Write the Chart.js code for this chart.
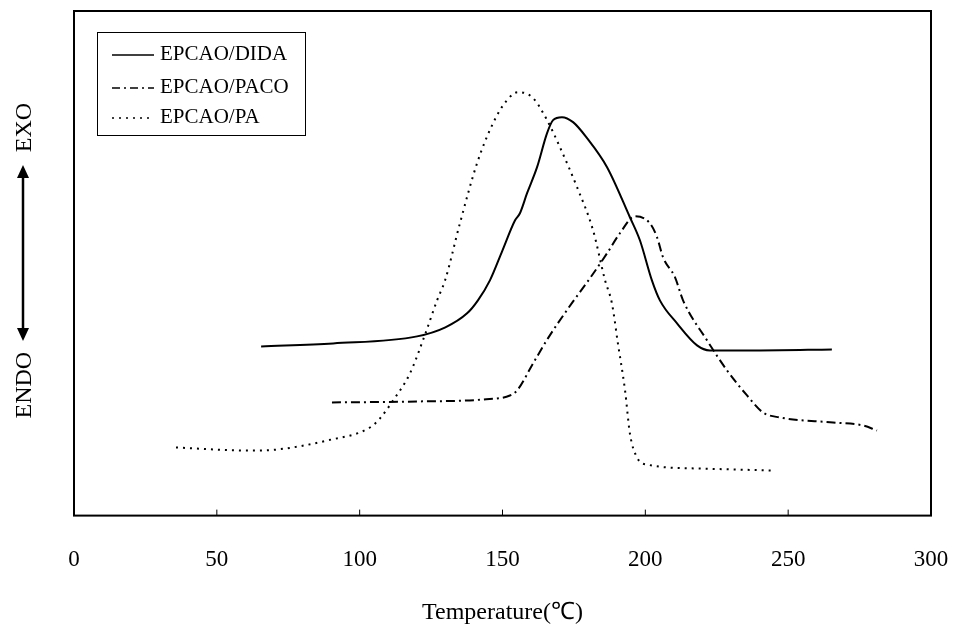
<!DOCTYPE html>
<html>
<head>
<meta charset="utf-8">
<script src="https://cdn.jsdelivr.net/npm/chart.js@4.4.0/dist/chart.umd.min.js"></script>
<style>
  body { margin: 0; background: #fff; }
  #wrap { position: relative; width: 954px; height: 627px; }
  #legendBox {
    position: absolute; left: 97px; top: 32px; width: 209px; height: 104px;
    border: 1px solid #000; box-sizing: border-box;
    font-family: "Liberation Serif", serif; font-size: 21px; color: #000;
  }
  .row { position: absolute; left: 14px; height: 24px; line-height: 24px; white-space: nowrap; }
  .row svg { vertical-align: middle; margin-right: 6px; }
  .ylab {
    position: absolute; font-family: "Liberation Serif", serif; font-size: 24px; color: #000;
    transform: rotate(-90deg); transform-origin: center center; white-space: nowrap;
  }
</style>
</head>
<body>
<div id="wrap">
  <canvas id="dscChart" width="954" height="627"></canvas>
  <div id="legendBox">
    <div class="row" style="top:8px"><svg width="42" height="6"><line x1="0" y1="3" x2="42" y2="3" stroke="#000" stroke-width="1.5"/></svg>EPCAO/DIDA</div>
    <div class="row" style="top:41px"><svg width="42" height="6"><line x1="0" y1="3" x2="42" y2="3" stroke="#000" stroke-width="1.5" stroke-dasharray="8,4,2,4"/></svg>EPCAO/PACO</div>
    <div class="row" style="top:71px"><svg width="42" height="6"><line x1="0" y1="3" x2="42" y2="3" stroke="#000" stroke-width="1.5" stroke-dasharray="2,5"/></svg>EPCAO/PA</div>
  </div>
  <div class="ylab" style="left:-4px; top:114px; width:54px; text-align:center;">EXO</div>
  <div class="ylab" style="left:-6px; top:376px; width:58px; text-align:center;">ENDO</div>
  <svg style="position:absolute; left:13px; top:165px;" width="20" height="176">
    <line x1="10" y1="10" x2="10" y2="166" stroke="#000" stroke-width="2.5"/>
    <polygon points="10,0 4,13 16,13" fill="#000"/>
    <polygon points="10,176 4,163 16,163" fill="#000"/>
  </svg>
</div>
<script>
// x tick labels
const xTicks = [0, 50, 100, 150, 200, 250, 300];

// EPCAO/DIDA (solid)
const didaT = [65.5, 90.7, 120.1, 130, 137.6, 141.4, 145.6, 150, 154.4, 156.1, 158.6, 162.1, 165.6, 167.7, 170.8, 174.7, 179.6, 186.6, 194.6, 198.1, 202.3, 205.1, 211.1, 218.1, 222.6, 240.1, 265.3];
const didaY = [169, 172, 179, 188, 202, 215, 235, 265, 295, 302, 322, 348, 382, 395, 398, 393, 377, 348, 298, 275, 235, 215, 192, 170, 165, 165, 166];

// EPCAO/PACO (dash-dot)
const pacoT = [90.3, 120.1, 143.2, 152.6, 155.1, 160.7, 165.9, 173, 180.6, 186.6, 191.1, 196.4, 201.6, 204.1, 206.2, 210.4, 213.2, 221.6, 228.6, 235.6, 241.2, 247.1, 265.7, 276.2, 281.1];
const pacoY = [113, 114, 116, 120, 125, 152, 177, 207, 237, 262, 282, 299, 292, 278, 258, 238, 215, 175, 145, 120, 103, 98, 93, 90, 85];

// EPCAO/PA (dotted)
const paT = [35.7, 61.6, 71.1, 88.6, 103.6, 107.1, 111.7, 117.6, 122.9, 127.1, 129.9, 135.1, 141.1, 146.7, 151.6, 155.4, 160.7, 165.6, 170.1, 176.1, 181.7, 185.9, 188.3, 190.4, 192.9, 194.6, 197.1, 200.6, 219.1, 244.7];
const paY = [68, 65, 66, 75, 88, 97, 115, 142, 181, 215, 235, 292, 352, 392, 415, 423, 417, 395, 368, 328, 285, 235, 212, 172, 125, 82, 58, 51, 47, 45];

function pts(xs, ys) {
    return xs.map((x, i) => ({x: x, y: ys[i]}));
}

// frame + inward tick marks
const framePlugin = {
    id: 'frame',
    afterDraw(chart) {
        const ctx = chart.ctx;
        const a = chart.chartArea;
        const xs = chart.scales.x;
        ctx.save();
        ctx.strokeStyle = '#000';
        ctx.lineWidth = 2;
        ctx.strokeRect(a.left, a.top, a.right - a.left, a.bottom - a.top);
        ctx.lineWidth = 1;
        xTicks.forEach(v => {
            const px = xs.getPixelForValue(v);
            ctx.beginPath();
            ctx.moveTo(px, a.bottom);
            ctx.lineTo(px, a.bottom - 6);
            ctx.stroke();
        });
        ctx.restore();
    }
};

const data = {
    datasets: [{
        label: 'EPCAO/DIDA',
        borderColor: '#000',
        borderWidth: 2,
        data: pts(didaT, didaY),
    },
    {
        label: 'EPCAO/PACO',
        borderColor: '#000',
        borderWidth: 2,
        borderDash: [9, 4, 2, 4],
        data: pts(pacoT, pacoY),
    },
    {
        label: 'EPCAO/PA',
        borderColor: '#000',
        borderWidth: 2,
        borderDash: [2, 5],
        data: pts(paT, paY),
    }]
};

const config = {
    type: 'line',
    data,
    options: {
        responsive: false,
        animation: false,
        cubicInterpolationMode: 'monotone',
        elements: { point: { radius: 0 } },
        layout: { padding: { left: 74, right: 23, top: 11, bottom: 0 } },
        plugins: { legend: { display: false }, tooltip: { enabled: false } },
        scales: {
            x: {
                type: 'linear',
                min: 0,
                max: 300,
                afterBuildTicks: axis => { axis.ticks = xTicks.map(v => ({value: v})); },
                afterFit: axis => { axis.paddingLeft = 0; axis.paddingRight = 0; },
                grid: { display: false, drawTicks: false },
                border: { display: false },
                ticks: {
                    color: '#000',
                    padding: 31,
                    maxRotation: 0,
                    font: { family: 'Liberation Serif', size: 23 }
                },
                title: {
                    display: true,
                    text: 'Temperature(℃)',
                    color: '#000',
                    font: { family: 'Liberation Serif', size: 24 },
                    padding: { top: -7, bottom: 0 }
                }
            },
            y: {
                display: false,
                min: 0,
                max: 504
            }
        }
    },
    plugins: [framePlugin]
};

const myChart = new Chart(document.getElementById('dscChart'), config);
</script>
</body>
</html>
